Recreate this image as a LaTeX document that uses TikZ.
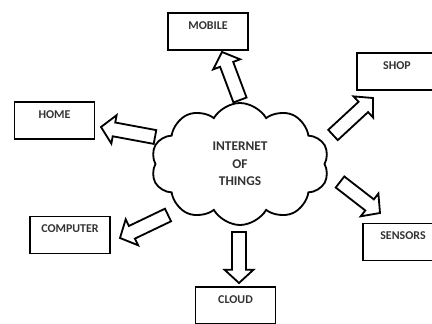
\documentclass[tikz,border=0pt]{standalone}
\usepackage{fontspec}
\setmainfont{Carlito}
\usetikzlibrary{calc,shapes.symbols}

\tikzset{
  thingbox/.style={draw, line width=1.3pt, minimum width=2cm, inner ysep=0pt,
    text height=0.41cm, text depth=0.515cm, font=\fontsize{8.5}{10}\selectfont\bfseries, text=black!80},
  bigarrow/.style={draw, line width=1.3pt, line join=miter, to path={
    ($(\tikztostart)!0.175cm!90:(\tikztotarget)$)
    -- ($(\tikztotarget)!0.33cm!(\tikztostart)!0.175cm!-90:(\tikztostart)$)
    -- ($(\tikztotarget)!0.33cm!(\tikztostart)!0.36cm!-90:(\tikztostart)$)
    -- (\tikztotarget)
    -- ($(\tikztotarget)!0.33cm!(\tikztostart)!0.36cm!90:(\tikztostart)$)
    -- ($(\tikztotarget)!0.33cm!(\tikztostart)!0.175cm!90:(\tikztostart)$)
    -- ($(\tikztostart)!0.175cm!-90:(\tikztotarget)$) -- cycle}}
}

\begin{document}
\begin{tikzpicture}
\useasboundingbox (0,0) rectangle (10.8,8.075);
% cloud
\node (iot) at (6.0,3.975) [cloud, cloud puffs=10, cloud puff arc=120, draw, line width=1.3pt,
  minimum width=4.45cm, minimum height=3.05cm, align=center,
  font=\fontsize{9.5}{12.5}\selectfont\bfseries, text=black!80] {INTERNET\\OF\\THINGS};
% boxes
\node (mobile) at (5.2,7.2875) [thingbox] {MOBILE};
\node (home) at (1.3625,5.0625) [thingbox] {HOME};
\node (shop) at (9.925,6.2875) [thingbox] {SHOP};
\node (computer) at (1.75,2.2) [thingbox] {COMPUTER};
\node (sensors) at (10.075,2.025) [thingbox] {SENSORS};
\node (cloud) at (5.8875,0.4375) [thingbox] {CLOUD};
% arrow ends
\coordinate (m1) at (6.0,5.575);
\coordinate (m2) at (5.55,6.775);
\coordinate (h1) at (3.875,4.65);
\coordinate (h2) at (2.525,4.9);
\coordinate (s1) at (8.325,4.7);
\coordinate (s2) at (9.325,5.625);
\coordinate (c1) at (4.2,2.7);
\coordinate (c2) at (3.0,2.125);
\coordinate (n1) at (8.5,3.525);
\coordinate (n2) at (9.5,2.75);
\coordinate (d1) at (5.975,2.275);
\coordinate (d2) at (5.975,1.0);
% arrows
\draw[bigarrow] (m1) to (m2);
\draw[bigarrow] (h1) to (h2);
\draw[bigarrow] (s1) to (s2);
\draw[bigarrow] (c1) to (c2);
\draw[bigarrow] (n1) to (n2);
\draw[bigarrow] (d1) to (d2);
\end{tikzpicture}
\end{document}
